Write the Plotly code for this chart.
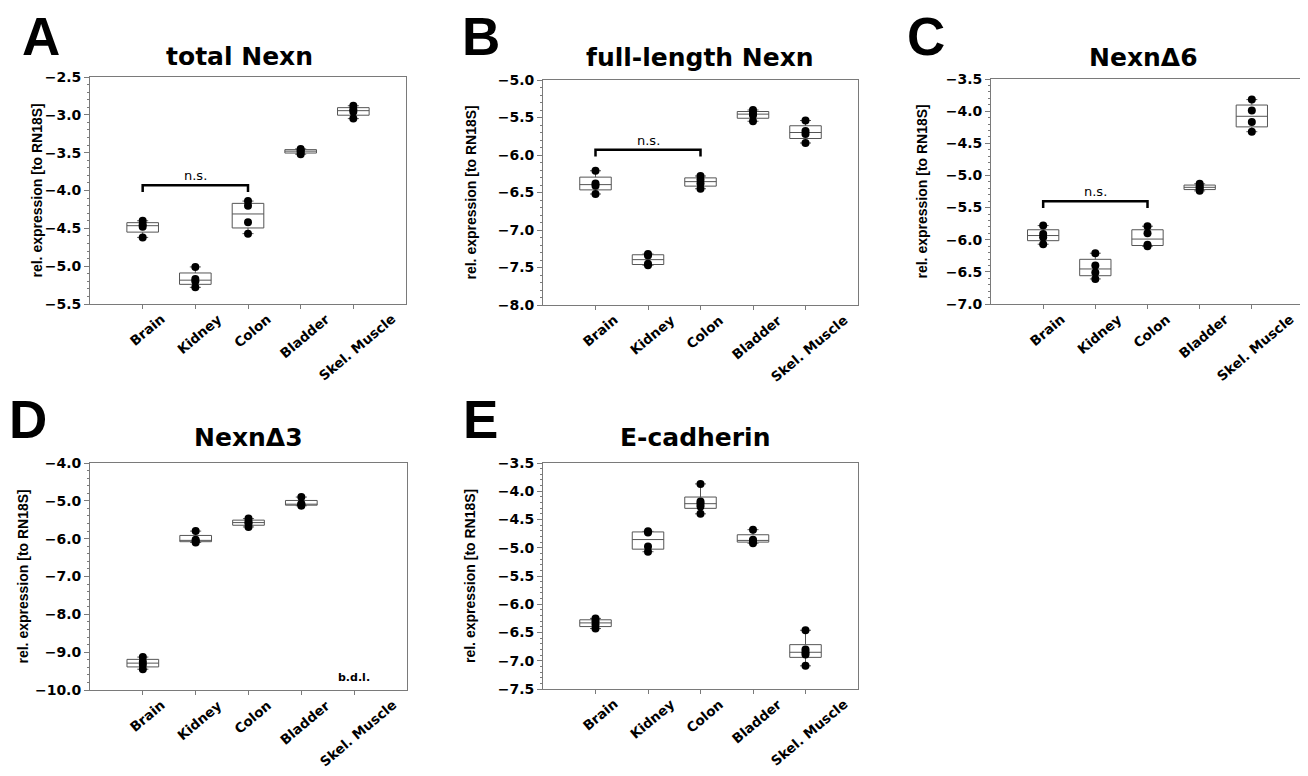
import plotly.graph_objects as go

W, H = 1308, 776
OFF = 8                      # page body margin of the exported html
FW, FH = W - OFF, H - OFF    # figure size that fits the window

tissues = ["Brain", "Kidney", "Colon", "Bladder", "Skel. Muscle"]

# values per tissue (Brain, Kidney, Colon, Bladder, Skel. Muscle)
total_nexn = [[-4.40, -4.45, -4.48, -4.62],
              [-5.01, -5.17, -5.20, -5.28],
              [-4.14, -4.20, -4.42, -4.57],
              [-3.45, -3.47, -3.49, -3.52],
              [-2.88, -2.93, -2.96, -3.05]]
full_length_nexn = [[-6.21, -6.38, -6.41, -6.52],
                    [-7.32, -7.34, -7.45, -7.47],
                    [-6.28, -6.33, -6.38, -6.45],
                    [-5.40, -5.44, -5.47, -5.55],
                    [-5.54, -5.68, -5.72, -5.84]]
nexn_d6 = [[-5.78, -5.91, -5.96, -6.07],
           [-6.21, -6.40, -6.51, -6.61],
           [-5.79, -5.90, -6.08, -6.10],
           [-5.13, -5.17, -5.20, -5.24],
           [-3.82, -3.99, -4.17, -4.32]]
nexn_d3 = [[-9.13, -9.25, -9.33, -9.45],
           [-5.80, -6.03, -6.06, -6.10],
           [-5.47, -5.55, -5.60, -5.69],
           [-4.90, -5.08, -5.10, -5.13],
           []]
e_cadherin = [[-6.25, -6.30, -6.36, -6.43],
              [-4.71, -4.73, -4.98, -5.07],
              [-3.87, -4.18, -4.22, -4.27, -4.40],
              [-4.68, -4.86, -4.88, -4.92],
              [-6.46, -6.80, -6.85, -6.89, -7.09]]

titles = ["total Nexn", "full-length Nexn", "Nexn\u03946", "Nexn\u03943", "E-cadherin"]
letters = ["A", "B", "C", "D", "E"]
y_ranges = [(-5.5, -2.5), (-8.0, -5.0), (-7.0, -3.5), (-10.0, -4.0), (-7.5, -3.5)]
y_dticks = [0.5, 0.5, 0.5, 1.0, 0.5]
y_minor = [0.1, 0.1, 0.1, 0.2, 0.1]
ns_levels = [-3.93, -5.93, -5.40, None, None]   # bracket height Brain vs Colon
bdl_levels = [None, None, None, -9.67, None]    # "b.d.l." label height

panels = [total_nexn, full_length_nexn, nexn_d6, nexn_d3, e_cadherin]

# plot areas in window pixels: (left, right, top, bottom)
boxes_px = [(90, 406, 77, 304), (543, 858, 80, 305), (991, 1304, 79, 304),
            (90, 407, 463, 690), (543, 858, 463, 689)]
title_px = [(239, 56), (700, 57), (1143, 57), (248, 437), (695, 437)]
letter_px = [(41, 36), (481, 36), (926, 36), (28, 419), (481, 419)]
ytitle_x = [36, 470, 922, 22, 470]

FONT = "Liberation Sans, Arial, sans-serif"
WIDE = "DejaVu Sans, Verdana, sans-serif"
AX = "#7a7a7a"


def px(x):
    return (x - OFF) / FW


def py(y):
    return 1 - (y - OFF) / FH


def fmt(v):
    return ("%.1f" % v).replace("-", "\u2212")


fig = go.Figure()
annotations = []
shapes = []

for i, data in enumerate(panels):
    n = "" if i == 0 else str(i + 1)
    l, r, t, b = boxes_px[i]
    xs, ys = [], []
    for k, vals in enumerate(data):
        xs += [k] * len(vals)
        ys += vals
    fig.add_trace(go.Box(
        x=xs, y=ys, xaxis="x" + n, yaxis="y" + n,
        boxpoints="all", jitter=0, pointpos=0, width=0.6, whiskerwidth=0.35,
        fillcolor="rgba(0,0,0,0)", line=dict(color="#555555", width=1),
        marker=dict(color="black", size=8), showlegend=False,
    ))
    fig.layout["xaxis" + n] = dict(
        domain=[px(l), px(r)], anchor="y" + n, range=[-1, 5], automargin=False,
        tickmode="array", tickvals=list(range(len(tissues))), ticktext=[""] * len(tissues),
        ticks="outside", ticklen=4, tickcolor=AX,
        showline=True, linecolor=AX, linewidth=1, mirror=True, showgrid=False,
        zeroline=False,
    )
    lo, hi = y_ranges[i]
    nsteps = int(round((hi - lo) / y_dticks[i]))
    tv = [lo + k * y_dticks[i] for k in range(nsteps + 1)]
    fig.layout["yaxis" + n] = dict(
        domain=[py(b), py(t)], anchor="x" + n, range=[lo, hi], automargin=False,
        tickmode="array", tickvals=tv, ticktext=[fmt(v) for v in tv],
        ticks="outside", ticklen=5, tickcolor=AX,
        minor=dict(tickmode="linear", tick0=0, dtick=y_minor[i], ticks="outside",
                   ticklen=2, tickcolor=AX),
        showline=True, linecolor=AX, linewidth=1, mirror=True, showgrid=False,
        zeroline=False,
        tickfont=dict(family=WIDE, size=14, color="black", weight="bold"),
    )
    # rotated category labels, centred under their ticks
    for k, name in enumerate(tissues):
        annotations.append(dict(
            x=k, y=lo, xref="x" + n, yref="y" + n, text="<b>%s</b>" % name,
            showarrow=False, textangle=-40, xanchor="center", yanchor="top",
            xshift=4, yshift=-4,
            font=dict(family=WIDE, size=13.5, color="black"),
        ))
    # title
    tx, ty = title_px[i]
    annotations.append(dict(
        x=px(tx), y=py(ty), xref="paper", yref="paper",
        text="<b>%s</b>" % titles[i], showarrow=False, xanchor="center", yanchor="middle",
        font=dict(family=WIDE, size=25, color="black"),
    ))
    # panel letter
    lx, ly = letter_px[i]
    annotations.append(dict(
        x=px(lx), y=py(ly), xref="paper", yref="paper",
        text="<b>%s</b>" % letters[i], showarrow=False, xanchor="center", yanchor="middle",
        font=dict(family=FONT, size=53, color="black"),
    ))
    # y-axis title
    annotations.append(dict(
        x=px(ytitle_x[i]), y=py((t + b) / 2), xref="paper", yref="paper",
        text="<b>rel. expression [to RN18S]</b>", showarrow=False, textangle=-90,
        xanchor="center", yanchor="middle",
        font=dict(family=FONT, size=14, color="black"),
    ))
    # n.s. bracket between Brain and Colon
    if ns_levels[i] is not None:
        yl = ns_levels[i]
        drop = (hi - lo) * 0.03
        x0, x1 = tissues.index("Brain"), tissues.index("Colon")
        shapes.append(dict(
            type="path", xref="x" + n, yref="y" + n,
            path="M %f %f L %f %f L %f %f L %f %f" % (x0, yl - drop, x0, yl, x1, yl, x1, yl - drop),
            line=dict(color="black", width=2.5),
        ))
        annotations.append(dict(
            x=(x0 + x1) / 2, y=yl, xref="x" + n, yref="y" + n, text="n.s.",
            showarrow=False, yanchor="bottom", yshift=0,
            font=dict(family=WIDE, size=13, color="black"),
        ))
    if bdl_levels[i] is not None:
        annotations.append(dict(
            x=tissues.index("Skel. Muscle"), y=bdl_levels[i], xref="x" + n, yref="y" + n,
            text="<b>b.d.l.</b>", showarrow=False,
            font=dict(family=WIDE, size=11, color="black"),
        ))

fig.update_layout(
    width=FW, height=FH, margin=dict(l=0, r=0, t=0, b=0),
    paper_bgcolor="white", plot_bgcolor="white",
    annotations=annotations, shapes=shapes, showlegend=False,
    font=dict(family=FONT),
)

fig.write_html("out.html")
